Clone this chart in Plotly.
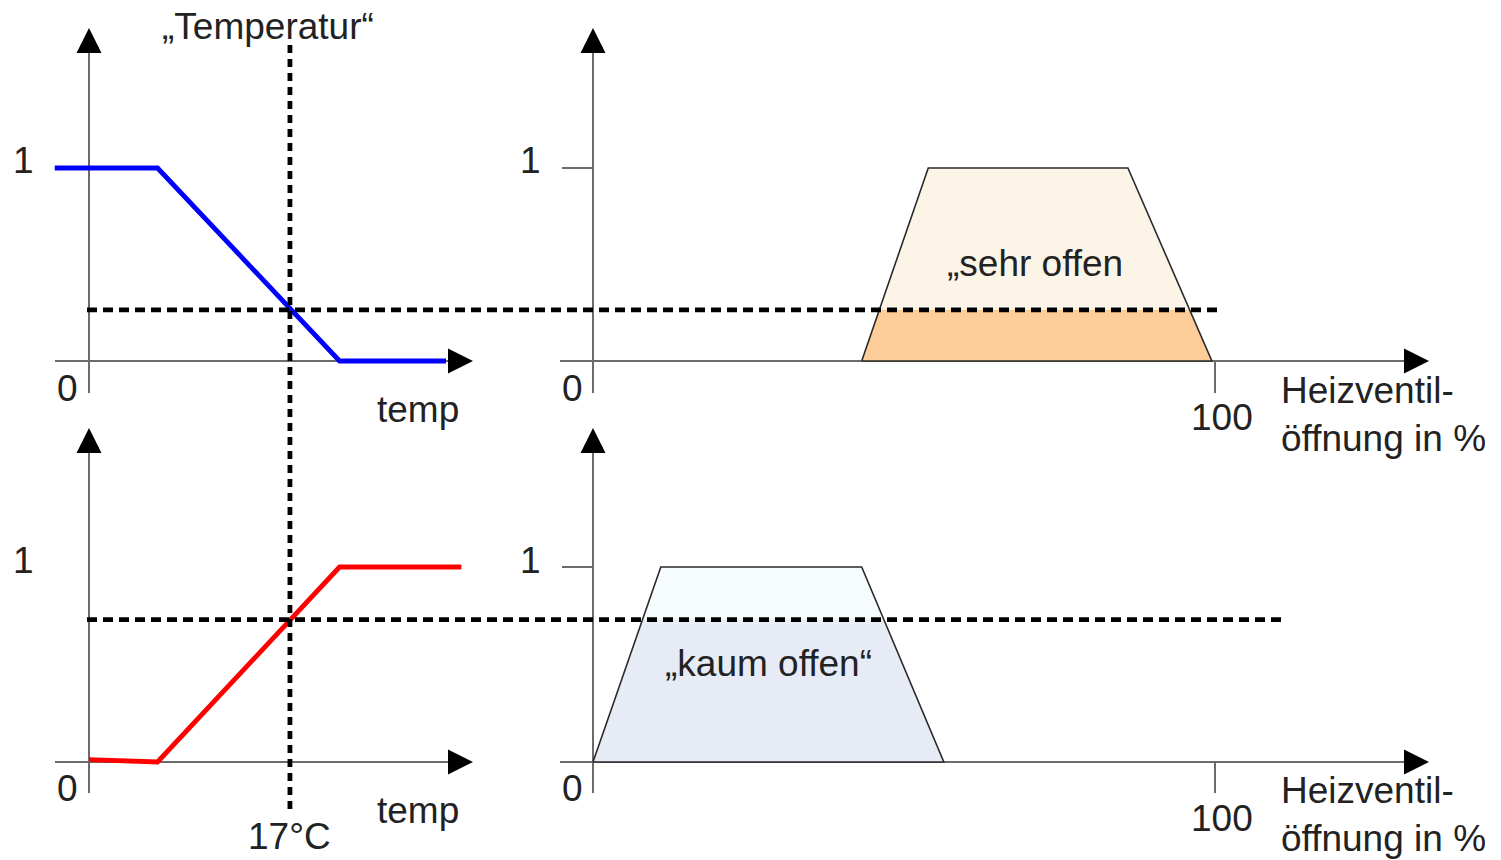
import plotly.graph_objects as go

W, H = 1501, 860

# ---------------- data ----------------
# membership functions of the input "Temperatur" (temp in °C, membership 0..1)
cold_temp = [-2.9, 5.8, 21.2, 30.2]
cold_mu = [1, 1, 0, 0]
warm_temp = [0.0, 5.8, 21.2, 31.5]
warm_mu = [0.012, 0, 1, 1]
crisp_temp = 17            # measured temperature (°C)
cold_at_crisp = 0.265      # degree of membership "cold" at 17 °C
warm_at_crisp = 0.73       # degree of membership "warm" at 17 °C

# output sets: valve opening in %
sehr_offen_pct = [43.2, 53.9, 86.0, 99.5]
sehr_offen_mu = [0, 1, 1, 0]
kaum_offen_pct = [0.0, 10.9, 43.2, 56.4]
kaum_offen_mu = [0, 1, 1, 0]

# ---------------- layout calibration (pixels) ----------------
T0, TS = 89, 11.82          # px of temp 0, px per °C
P0, PS = 593, 6.22          # px of 0 %, px per %
YT0, YTS = 361, 193         # top panels: py of mu=0, px per unit
YB0, YBS = 762, 195         # bottom panels

xr_t = [(0 - T0) / TS, (W - T0) / TS]
xr_p = [(0 - P0) / PS, (W - P0) / PS]
yr_top = [(YT0 - H) / YTS, YT0 / YTS]
yr_bot = [(YB0 - H) / YBS, YB0 / YBS]

def t_of(px): return (px - T0) / TS
def p_of(px): return (px - P0) / PS
def mt_of(py): return (YT0 - py) / YTS
def mb_of(py): return (YB0 - py) / YBS

FONT = "Liberation Sans, Arial, sans-serif"
AX_COL = "#6b6b6b"
TXT = "#222222"

def clip_trap(xs, level):
    xl = xs[0] + (xs[1] - xs[0]) * level
    xr = xs[3] - (xs[3] - xs[2]) * level
    return [xs[0], xl, xr, xs[3], xs[0]], [0, level, level, 0, 0]

fig = go.Figure()

# --- output fuzzy sets (fills + outlines) ---
def add_set(xs, mus, level, light, dark, yax):
    fig.add_trace(go.Scatter(x=xs + [xs[0]], y=mus + [mus[0]], xaxis="x2", yaxis=yax,
                             mode="lines", fill="toself", fillcolor=light,
                             line=dict(width=0), hoverinfo="skip", showlegend=False))
    cx, cy = clip_trap(xs, level)
    fig.add_trace(go.Scatter(x=cx, y=cy, xaxis="x2", yaxis=yax,
                             mode="lines", fill="toself", fillcolor=dark,
                             line=dict(width=0), hoverinfo="skip", showlegend=False))
    fig.add_trace(go.Scatter(x=xs + [xs[0]], y=mus + [mus[0]], xaxis="x2", yaxis=yax,
                             mode="lines", line=dict(color="#2a2a2a", width=1.6),
                             hoverinfo="skip", showlegend=False))

add_set(sehr_offen_pct, sehr_offen_mu, cold_at_crisp, "#fdf4e8", "#fdcd99", "y")
add_set(kaum_offen_pct, kaum_offen_mu, warm_at_crisp, "#f6fbfd", "#e6ebf6", "y2")

# --- input membership functions ---
fig.add_trace(go.Scatter(x=cold_temp, y=cold_mu, xaxis="x", yaxis="y", mode="lines",
                         line=dict(color="#0000ff", width=4.8), hoverinfo="skip", showlegend=False))
fig.add_trace(go.Scatter(x=warm_temp, y=warm_mu, xaxis="x", yaxis="y2", mode="lines",
                         line=dict(color="#ff0000", width=4.8), hoverinfo="skip", showlegend=False))

shapes = []
def seg(xref, yref, x0, y0, x1, y1, color=AX_COL, width=2, dash=None, layer="below"):
    d = dict(type="line", xref=xref, yref=yref, x0=x0, y0=y0, x1=x1, y1=y1,
             line=dict(color=color, width=width), layer=layer)
    if dash:
        d["line"]["dash"] = dash
    shapes.append(d)

# axes (drawn as lines) for the four panels
for yref, y0, ybot, ytop in [("y", 0, mt_of(393), mt_of(28)), ("y2", 0, mb_of(793), mb_of(428))]:
    # temp panel
    seg("x", yref, t_of(55), 0, t_of(462), 0)
    seg("x", yref, 0, ybot, 0, ytop - 0.05)
    # valve panel
    seg("x2", yref, p_of(560), 0, p_of(1418), 0)
    seg("x2", yref, 0, ybot, 0, ytop - 0.05)
    seg("x2", yref, p_of(562), 1, 0, 1)
    seg("x2", yref, 100, 0, 100, ybot)

# dashed helper lines
DASH = "10px,6px"
seg("x", "paper", crisp_temp, 1 - 45 / H, crisp_temp, 1 - 812 / H, color="black", width=4.8, dash="8px,6px", layer="above")
seg("paper", "y", 87 / W, cold_at_crisp, 1218 / W, cold_at_crisp, color="black", width=4.8, dash=DASH, layer="above")
seg("paper", "y2", 87 / W, warm_at_crisp, 1287 / W, warm_at_crisp, color="black", width=4.8, dash=DASH, layer="above")

annotations = []
def arrow(xref, yref, x, y, ax, ay):
    annotations.append(dict(xref=xref, yref=yref, x=x, y=y, ax=ax, ay=ay, axref="pixel", ayref="pixel",
                            text="", showarrow=True, arrowhead=2, arrowsize=2.5, arrowwidth=2,
                            arrowcolor="black"))

for yref, tip, of in [("y", 28, mt_of), ("y2", 428, mb_of)]:
    arrow("x", yref, 0, of(tip), 0, 24)
    arrow("x2", yref, 0, of(tip), 0, 24)
    arrow("x", yref, t_of(473), 0, -24, 0)
    arrow("x2", yref, p_of(1429), 0, -24, 0)

def label(text, px, py, size=37, xanchor="center", align="center", yanchor="middle"):
    annotations.append(dict(xref="paper", yref="paper", x=px / W, y=1 - py / H, text=text,
                            showarrow=False, xanchor=xanchor, yanchor=yanchor, align=align,
                            font=dict(family=FONT, size=size, color=TXT)))

label("„Temperatur“", 268, 27)
for dy in (0, 400):
    label("1", 23, 160 + dy)
    label("0", 67, 388 + dy)
    label("temp", 418, 410 + dy)
    label("1", 530, 160 + dy)
    label("0", 572, 388 + dy)
    label("100", 1222, 418 + dy)
    label("Heizventil-<br>öffnung in %", 1279, 414 + dy, xanchor="left", align="left")
label("17°C", 289, H - 1, yanchor="bottom")
label("„sehr offen", 1035, 263)
label("„kaum offen“", 768, 663)

fig.update_layout(
    width=W, height=H, margin=dict(l=0, r=0, t=0, b=0),
    paper_bgcolor="white", plot_bgcolor="white",
    xaxis=dict(domain=[0, 1], range=xr_t, visible=False, fixedrange=True),
    xaxis2=dict(domain=[0, 1], range=xr_p, visible=False, fixedrange=True, overlaying="x", anchor="y"),
    yaxis=dict(domain=[0, 1], range=yr_top, visible=False, fixedrange=True),
    yaxis2=dict(domain=[0, 1], range=yr_bot, visible=False, fixedrange=True, overlaying="y", anchor="x"),
    shapes=shapes, annotations=annotations, showlegend=False,
)

fig.write_html("out.html", config={"displayModeBar": False},
               post_script="document.body.style.margin='0px';document.body.style.overflow='hidden';")
